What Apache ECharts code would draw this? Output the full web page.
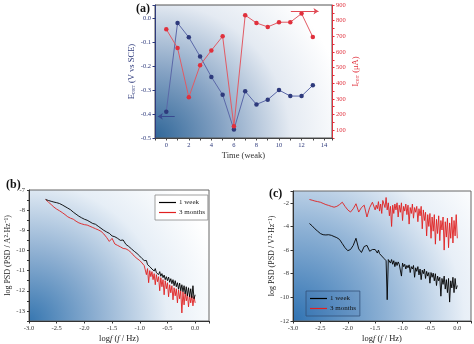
<!DOCTYPE html>
<html><head><meta charset="utf-8">
<script src="https://cdn.jsdelivr.net/npm/echarts@6/dist/echarts.min.js"></script>
<style>html,body{margin:0;padding:0;background:#fff}#c{width:474px;height:344px}</style>
</head><body><div id="c"></div>
<script>
// ---- Panel (a) data ----
const weeks = [0,1,2,3,4,5,6,7,8,9,10,11,12,13];
const eCorr = [-0.39,-0.02,-0.08,-0.16,-0.245,-0.32,-0.465,-0.305,-0.36,-0.34,-0.30,-0.325,-0.325,-0.28];
const iCorr = [745,625,310,515,610,700,125,835,785,760,790,790,845,695];

// ---- Panel (b) data ----
const bFreq = [-2.70,-2.65,-2.60,-2.55,-2.50,-2.45,-2.40,-2.35,-2.30,-2.25,-2.20,-2.15,-2.10,-2.05,-2.00,-1.95,-1.90,-1.85,-1.80,-1.75,-1.70,-1.65,-1.60,-1.55,-1.50,-1.45,-1.40,-1.35,-1.30,-1.25,-1.20,-1.15,-1.10,-1.05,-1.00,
 -0.98,-0.96,-0.94,-0.92,-0.90,-0.88,-0.86,-0.84,-0.82,-0.80,-0.78,-0.76,-0.74,-0.72,-0.70,-0.68,-0.66,-0.64,-0.62,-0.60,-0.58,-0.56,-0.54,-0.52,-0.50,-0.48,-0.46,-0.44,-0.42,-0.40,-0.38,-0.36,-0.34,-0.32,-0.30,-0.28,-0.26,-0.24,-0.22,-0.20,-0.18,-0.16,-0.14,-0.12,-0.10,-0.08,-0.06,-0.04,-0.02,0.00];
const bWeek = [-7.47,-7.52,-7.56,-7.60,-7.63,-7.67,-7.74,-7.82,-7.90,-7.98,-8.10,-8.20,-8.30,-8.38,-8.45,-8.50,-8.58,-8.66,-8.70,-8.80,-8.90,-9.00,-9.08,-9.15,-9.28,-9.32,-9.40,-9.50,-9.48,-9.70,-9.80,-9.92,-10.04,-10.15,-10.28,
 -10.33,-10.40,-10.44,-10.50,-10.55,-10.50,-10.70,-10.62,-10.80,-10.78,-10.92,-10.85,-11.02,-10.90,-11.10,-11.02,-11.20,-11.05,-11.28,-11.15,-11.35,-11.22,-11.45,-11.30,-11.50,-11.32,-11.58,-11.40,-11.65,-11.45,-11.75,-11.50,-11.80,-11.60,-11.92,-11.62,-12.00,-11.70,-12.05,-11.75,-12.15,-11.80,-12.25,-11.85,-12.30,-11.90,-12.35,-11.75,-12.40,-12.20];
const bMonths = [-7.47,-7.60,-7.72,-7.85,-7.95,-8.03,-8.12,-8.22,-8.33,-8.40,-8.45,-8.55,-8.63,-8.68,-8.72,-8.74,-8.80,-8.86,-8.92,-8.98,-9.05,-9.18,-9.35,-9.55,-9.40,-9.68,-9.75,-9.82,-9.90,-9.92,-10.00,-10.12,-10.28,-10.40,-10.50,
 -10.55,-10.62,-10.68,-10.75,-10.80,-11.20,-10.90,-11.60,-11.00,-11.30,-11.05,-11.45,-11.15,-11.70,-11.20,-11.55,-11.30,-12.00,-11.35,-11.80,-11.45,-12.20,-11.50,-11.90,-11.60,-12.30,-11.70,-12.10,-11.75,-12.45,-11.85,-12.25,-11.90,-12.60,-11.95,-12.40,-12.00,-13.10,-12.05,-12.70,-12.10,-12.50,-12.15,-12.80,-12.20,-12.60,-12.25,-12.75,-12.30,-12.60];

// ---- Panel (c) data ----
const cFreq = [-2.70,-2.65,-2.60,-2.55,-2.50,-2.45,-2.40,-2.35,-2.30,-2.25,-2.20,-2.15,-2.10,-2.05,-2.00,-1.95,-1.90,-1.85,-1.80,-1.75,-1.70,-1.65,-1.60,-1.55,-1.50,
 -1.48,-1.46,-1.44,-1.42,-1.40,-1.38,-1.36,-1.34,-1.32,-1.30,-1.28,-1.26,-1.24,-1.22,-1.20,-1.18,-1.16,-1.14,-1.12,-1.10,-1.08,-1.06,-1.04,-1.02,-1.00,
 -0.98,-0.96,-0.94,-0.92,-0.90,-0.88,-0.86,-0.84,-0.82,-0.80,-0.78,-0.76,-0.74,-0.72,-0.70,-0.68,-0.66,-0.64,-0.62,-0.60,-0.58,-0.56,-0.54,-0.52,-0.50,
 -0.48,-0.46,-0.44,-0.42,-0.40,-0.38,-0.36,-0.34,-0.32,-0.30,-0.28,-0.26,-0.24,-0.22,-0.20,-0.18,-0.16,-0.14,-0.12,-0.10,-0.08,-0.06,-0.04,-0.02,0.00];
const cWeek = [-3.75,-3.95,-4.20,-4.40,-4.60,-4.70,-4.72,-4.70,-4.75,-4.85,-4.95,-5.10,-5.45,-5.80,-6.05,-5.95,-5.60,-5.00,-5.90,-6.20,-5.70,-5.60,-6.10,-5.95,-5.95,
 -6.00,-6.25,-6.00,-6.30,-6.35,-6.50,-6.45,-6.70,-6.55,-6.90,-10.20,-6.80,-6.70,-7.10,-6.80,-7.20,-6.90,-7.40,-7.00,-7.30,-7.00,-7.20,-7.10,-8.20,-7.10,
 -7.40,-7.20,-7.60,-7.30,-7.50,-7.25,-7.90,-7.40,-7.60,-7.30,-8.30,-7.50,-7.80,-7.40,-8.10,-7.60,-8.50,-7.70,-8.00,-7.60,-8.40,-7.80,-8.20,-7.90,-8.80,
 -7.90,-8.30,-7.95,-8.60,-8.00,-9.00,-8.20,-8.60,-8.30,-9.90,-8.40,-8.90,-8.20,-9.30,-8.50,-9.60,-8.40,-10.40,-8.60,-9.20,-8.30,-9.60,-8.40,-9.30,-9.00];
const cMonths = [-1.72,-1.78,-1.85,-1.90,-1.95,-2.05,-2.15,-2.22,-2.30,-2.37,-2.30,-2.15,-1.95,-2.30,-2.60,-2.78,-2.50,-2.08,-2.78,-2.40,-2.20,-3.20,-2.40,-1.95,-2.60,
 -2.20,-2.50,-1.90,-2.70,-2.10,-2.90,-1.80,-1.65,-2.40,-1.55,-2.60,-2.00,-3.10,-2.30,-4.00,-2.20,-2.90,-2.10,-2.60,-2.00,-3.20,-2.20,-2.80,-2.00,-3.50,
 -2.30,-2.70,-2.10,-3.00,-2.20,-3.80,-2.40,-2.90,-2.10,-3.30,-2.40,-2.80,-2.30,-3.60,-2.50,-3.10,-2.30,-4.20,-2.60,-3.50,-2.80,-4.80,-3.00,-4.00,-2.90,
 -5.00,-3.20,-4.40,-3.00,-5.50,-3.40,-4.60,-3.10,-5.20,-3.50,-4.30,-3.20,-6.00,-3.60,-4.90,-3.30,-5.80,-3.70,-5.00,-3.20,-5.40,-3.50,-4.80,-3.00,-5.00];

const pairs = (xs, ys) => xs.slice(0, Math.min(xs.length, ys.length)).map((x, i) => [x, ys[i]]);

const FONT = 'Liberation Serif';
const NAVY = '#2e3a7c';
const RED = '#e0303c';
const isMult = (v, s) => Math.abs(v / s - Math.round(v / s)) < 1e-6;

function bg(r, stops) {
  return new echarts.graphic.RadialGradient(0, 1, r, stops.map(s => ({offset: s[0], color: s[1]})));
}

const chart = echarts.init(document.getElementById('c'), null, {renderer: 'canvas'});

const psdAxisX = (gi) => ({
  type: 'value', gridIndex: gi, min: -3, max: 0.25, interval: 0.5,
  name: '{n|log}{i|f}{n| (}{i|f}{n| / Hz)}', nameLocation: 'middle', nameGap: 13,
  nameTextStyle: {rich: {n: {fontFamily: FONT, fontSize: 8.5, color: '#222'}, i: {fontFamily: FONT, fontSize: 8.5, fontStyle: 'italic', color: '#222'}}},
  axisLine: {onZero: false, lineStyle: {color: '#333', width: 1}},
  axisTick: {length: 2.5, lineStyle: {color: '#333'}},
  axisLabel: {fontFamily: FONT, fontSize: 6.5, color: '#333', margin: 4,
    formatter: v => isMult(v, 0.5) ? v.toFixed(1) : ''},
  splitLine: {show: false}
});

const legendBase = {
  data: [{name: '1 week', icon: 'rect'}, {name: '3 months', icon: 'rect'}],
  orient: 'vertical', itemGap: 3, itemWidth: 17, itemHeight: 1.2
};

chart.setOption({
  animation: false,
  textStyle: {fontFamily: FONT},
  title: [
    {text: '(a)', left: 131, top: -2, textStyle: {fontFamily: FONT, fontSize: 12, fontWeight: 'bold', color: '#111'}},
    {text: '(b)', left: 1, top: 174, textStyle: {fontFamily: FONT, fontSize: 12, fontWeight: 'bold', color: '#111'}},
    {text: '(c)', left: 264, top: 183, textStyle: {fontFamily: FONT, fontSize: 12, fontWeight: 'bold', color: '#111'}}
  ],
  grid: [
    {left: 155, top: 5, width: 177, height: 133, show: true, borderColor: '#555', borderWidth: 1,
      backgroundColor: bg(1.45, [[0, '#2f6698'], [0.35, '#86a3c4'], [0.7, '#e4eaf2'], [1, '#ffffff']])},
    {left: 29, top: 190, width: 180, height: 132, show: true, borderColor: '#666', borderWidth: 1,
      backgroundColor: bg(1.5, [[0, '#3676b0'], [0.35, '#8fb0d2'], [0.7, '#e6eef6'], [1, '#ffffff']])},
    {left: 293, top: 191, width: 179, height: 131, show: true, borderColor: '#666', borderWidth: 1,
      backgroundColor: bg(1.75, [[0, '#2f72b2'], [0.4, '#8cb0d4'], [0.75, '#e8eff7'], [1, '#ffffff']])}
  ],
  xAxis: [
    {type: 'value', gridIndex: 0, min: -1, max: 14.7, interval: 1,
      name: 'Time (weak)', nameLocation: 'middle', nameGap: 13,
      nameTextStyle: {fontFamily: FONT, fontSize: 8.5, color: '#333'},
      axisLine: {onZero: false, lineStyle: {color: '#444'}}, axisTick: {length: 2.5, lineStyle: {color: '#444'}},
      axisLabel: {fontFamily: FONT, fontSize: 6.5, color: NAVY, margin: 4, formatter: v => isMult(v, 2) ? String(v) : ''},
      splitLine: {show: false}},
    psdAxisX(1),
    psdAxisX(2)
  ],
  yAxis: [
    {type: 'value', gridIndex: 0, min: -0.5, max: 0.055, interval: 0.1,
      name: '{b|E}{s|corr}{b| (V vs SCE)}', nameLocation: 'middle', nameGap: 17,
      nameTextStyle: {rich: {b: {fontFamily: FONT, fontSize: 8.5, color: NAVY}, s: {fontFamily: FONT, fontSize: 5.5, color: NAVY, padding: [4, 0, 0, 0]}}},
      axisLine: {onZero: false, lineStyle: {color: NAVY}}, axisTick: {length: 2.5, lineStyle: {color: NAVY}},
      axisLabel: {fontFamily: FONT, fontSize: 6.5, color: NAVY, margin: 4, formatter: v => isMult(v, 0.1) ? v.toFixed(1) : ''},
      splitLine: {show: false}},
    {type: 'value', gridIndex: 0, position: 'right', min: 50, max: 900, interval: 50,
      name: '{b|I}{s|corr}{b| (μA)}', nameLocation: 'middle', nameGap: 19,
      nameTextStyle: {rich: {b: {fontFamily: FONT, fontSize: 8.5, color: RED}, s: {fontFamily: FONT, fontSize: 5.5, color: RED, padding: [4, 0, 0, 0]}}},
      axisLine: {show: true, onZero: false, lineStyle: {color: RED}}, axisTick: {length: 2.5, lineStyle: {color: RED}},
      axisLabel: {fontFamily: FONT, fontSize: 6.5, color: RED, margin: 4, formatter: v => isMult(v, 100) ? String(v) : ''},
      splitLine: {show: false}},
    {type: 'value', gridIndex: 1, min: -13.5, max: -7, interval: 0.5,
      name: 'log PSD (PSD / A²·Hz⁻¹)', nameLocation: 'middle', nameGap: 17,
      nameTextStyle: {fontFamily: FONT, fontSize: 8, color: '#222'},
      axisLine: {onZero: false, lineStyle: {color: '#333'}}, axisTick: {length: 2, lineStyle: {color: '#333'}},
      axisLabel: {fontFamily: FONT, fontSize: 6.5, color: '#333', margin: 4, formatter: v => isMult(v, 1) ? String(Math.round(v)) : ''},
      splitLine: {show: false}},
    {type: 'value', gridIndex: 2, min: -12, max: -1, interval: 2,
      name: 'log PSD (PSD / V²·Hz⁻¹)', nameLocation: 'middle', nameGap: 17,
      nameTextStyle: {fontFamily: FONT, fontSize: 8, color: '#222'},
      axisLine: {onZero: false, lineStyle: {color: '#333'}}, axisTick: {length: 2.5, lineStyle: {color: '#333'}},
      axisLabel: {fontFamily: FONT, fontSize: 6.5, color: '#333', margin: 4, formatter: v => isMult(v, 2) ? String(Math.round(v)) : ''},
      splitLine: {show: false}}
  ],
  legend: [
    Object.assign({}, legendBase, {left: 155, top: 195,
      padding: [4, 3, 4, 4], borderColor: '#888', borderWidth: 0.8, backgroundColor: 'rgba(255,255,255,0.92)',
      textStyle: {fontFamily: FONT, fontSize: 7, color: '#222', padding: [0, 0, 0, -2]}}),
    Object.assign({}, legendBase, {left: 306, top: 291,
      padding: [4, 4, 4, 4], borderColor: '#34507a', borderWidth: 0.8, backgroundColor: 'rgba(60,110,170,0.15)',
      textStyle: {fontFamily: FONT, fontSize: 7, color: '#111', padding: [0, 0, 0, -2]}})
  ],
  series: [
    {type: 'line', name: 'Ecorr', xAxisIndex: 0, yAxisIndex: 0, data: pairs(weeks, eCorr),
      symbol: 'circle', symbolSize: 4.5, itemStyle: {color: NAVY}, lineStyle: {color: '#5b68a8', width: 1},
      markLine: {silent: true, symbol: ['none', 'arrow'], symbolSize: 5, label: {show: false},
        lineStyle: {color: '#3a4a90', width: 1, type: 'solid'},
        data: [[{coord: [0.75, -0.41]}, {coord: [-0.75, -0.41]}]]}},
    {type: 'line', name: 'Icorr', xAxisIndex: 0, yAxisIndex: 1, data: pairs(weeks, iCorr),
      symbol: 'circle', symbolSize: 4.5, itemStyle: {color: RED}, lineStyle: {color: '#e25a64', width: 1},
      markLine: {silent: true, symbol: ['none', 'arrow'], symbolSize: 5, label: {show: false},
        lineStyle: {color: '#e04a55', width: 1, type: 'solid'},
        data: [[{coord: [11.05, 860]}, {coord: [13.5, 860]}]]}},
    {type: 'line', name: '1 week', xAxisIndex: 1, yAxisIndex: 2, data: pairs(bFreq, bWeek),
      symbol: 'none', itemStyle: {color: '#000'}, lineStyle: {color: '#000', width: 0.9}, z: 3},
    {type: 'line', name: '3 months', xAxisIndex: 1, yAxisIndex: 2, data: pairs(bFreq, bMonths),
      symbol: 'none', itemStyle: {color: '#e02020'}, lineStyle: {color: '#e02020', width: 0.9}, z: 2},
    {type: 'line', name: '1 week', xAxisIndex: 2, yAxisIndex: 3, data: pairs(cFreq, cWeek),
      symbol: 'none', itemStyle: {color: '#000'}, lineStyle: {color: '#000', width: 0.9}},
    {type: 'line', name: '3 months', xAxisIndex: 2, yAxisIndex: 3, data: pairs(cFreq, cMonths),
      symbol: 'none', itemStyle: {color: '#e02020'}, lineStyle: {color: '#e02020', width: 0.9}}
  ]
});
</script></body></html>
